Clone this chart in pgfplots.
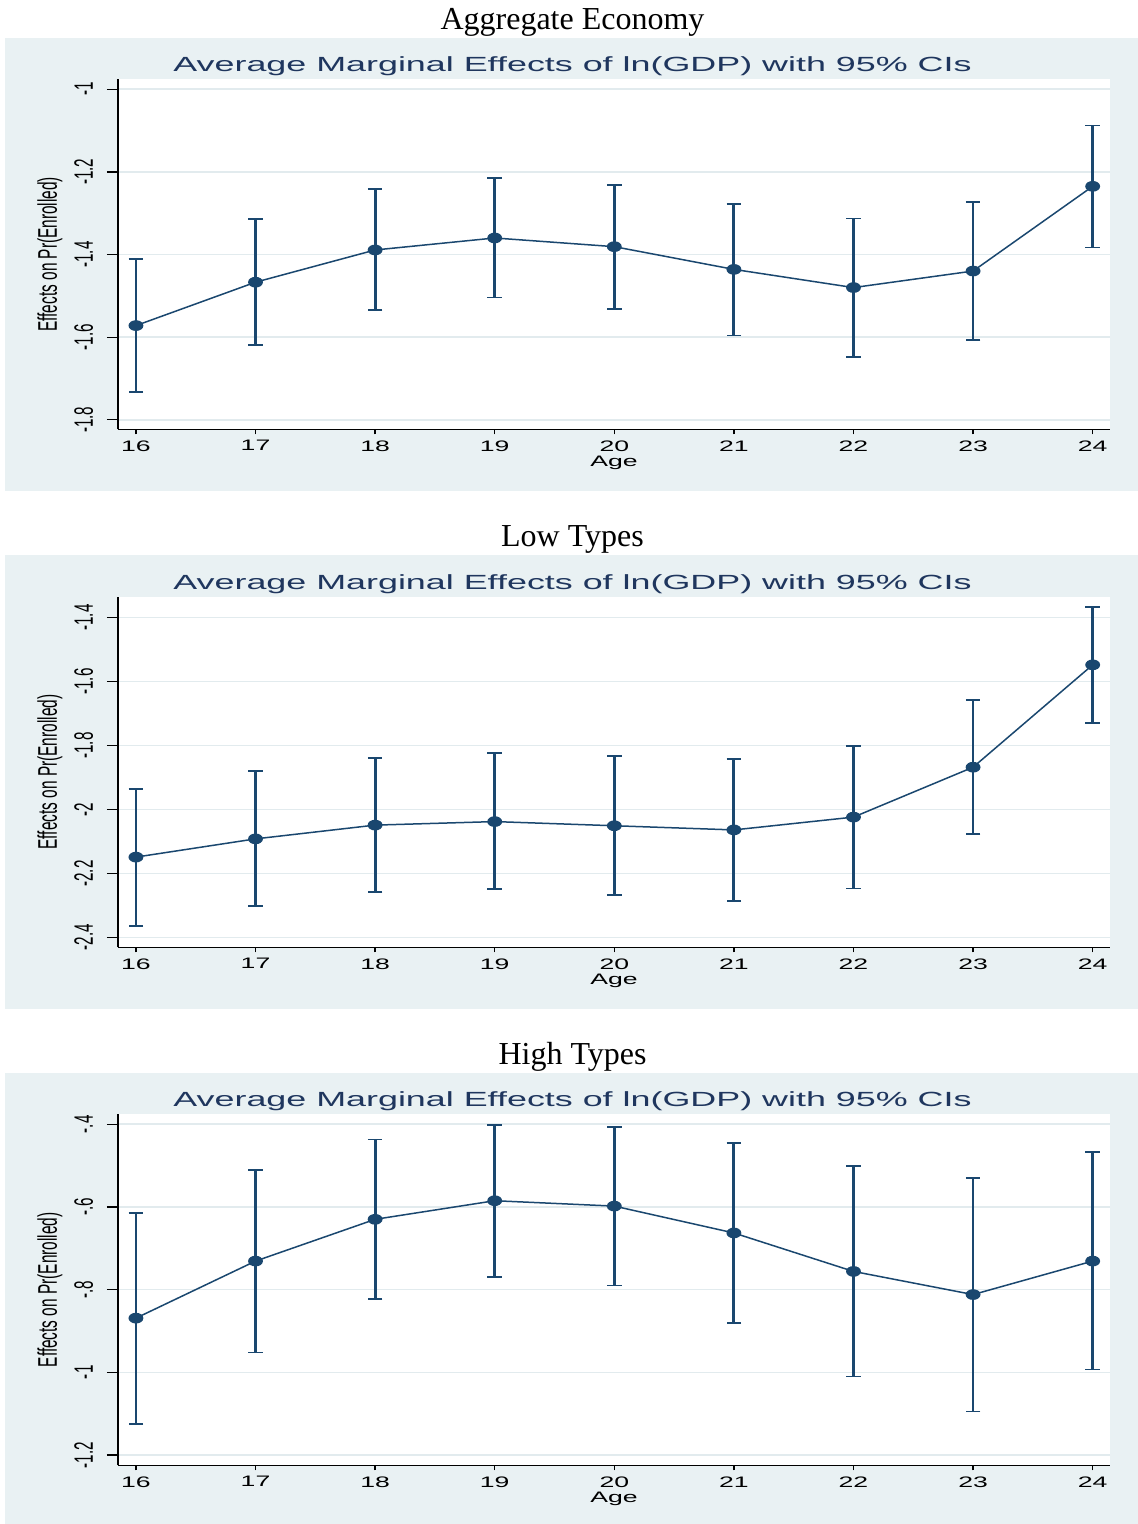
\documentclass[border=0pt]{standalone}
\usepackage{fontspec}
\usepackage{graphicx}
\usepackage{pgfplots}
\pgfplotsset{compat=1.18}
\usepackage{pgfplotstable}
\setmainfont{Liberation Serif}
\newfontfamily\sansf{Liberation Sans}
\definecolor{navy}{RGB}{26,71,111}
\definecolor{titlec}{RGB}{31,54,94}
\definecolor{bgc}{RGB}{233,241,243}
\definecolor{gridc}{RGB}{226,235,238}
\newcommand\sx[1]{\scalebox{1.75}[1]{#1}}
\newcommand\sy[1]{\scalebox{1}[1.75]{#1}}

\pgfplotstableread{
x y hi lo
16 -1.572 -1.411 -1.732
17 -1.467 -1.315 -1.619
18 -1.389 -1.242 -1.534
19 -1.360 -1.214 -1.504
20 -1.381 -1.231 -1.531
21 -1.436 -1.277 -1.596
22 -1.480 -1.313 -1.648
23 -1.440 -1.273 -1.606
24 -1.235 -1.088 -1.383
}\aggtab

\pgfplotstableread{
x y hi lo
16 -2.149 -1.936 -2.364
17 -2.092 -1.880 -2.302
18 -2.049 -1.839 -2.257
19 -2.038 -1.824 -2.248
20 -2.051 -1.834 -2.268
21 -2.064 -1.842 -2.285
22 -2.024 -1.802 -2.247
23 -1.868 -1.658 -2.078
24 -1.548 -1.368 -1.729
}\lowtab

\pgfplotstableread{
x y hi lo
16 -0.869 -0.614 -1.126
17 -0.731 -0.510 -0.952
18 -0.630 -0.437 -0.823
19 -0.585 -0.402 -0.769
20 -0.598 -0.407 -0.790
21 -0.663 -0.445 -0.881
22 -0.756 -0.501 -1.010
23 -0.812 -0.530 -1.095
24 -0.731 -0.468 -0.993
}\hightab

\pgfplotsset{
  statastyle/.style={
    scale only axis, width=992pt,
    xmin=15.85, xmax=24.145,
    axis x line*=bottom, axis y line*=left,
    axis line style={black, line width=1.3pt, -},
    tick align=outside,
    major tick length=11pt,
    xtick style={/pgfplots/major tick length=5pt, black, line width=1.3pt},
    ytick style={black, line width=1.3pt},
    xtick={16,...,24},
    xticklabels={\sx{16},\sx{17},\sx{18},\sx{19},\sx{20},\sx{21},\sx{22},\sx{23},\sx{24}},
    ymajorgrids, grid style={gridc, line width=1.5pt},
    axis background/.style={fill=white},
    tick label style={font=\sansf\fontsize{15.2}{18}\selectfont, black},
    xticklabel style={anchor=north, inner sep=0pt},
    yticklabel style={rotate=90, anchor=base, inner sep=0pt},
    yticklabel shift=14pt,
    xlabel={\sx{Age}},
    xlabel style={at={(axis description cs:0.5,-0.106)}, anchor=base, inner sep=0pt, font=\sansf\fontsize{15.2}{18}\selectfont},
    ylabel={\sy{Effects on Pr(Enrolled)}},
    ylabel style={at={(axis description cs:-0.0615,0.5)}, anchor=base, inner sep=0pt, font=\sansf\fontsize{15.4}{18}\selectfont},
    clip=false,
  },
  cistyle/.style={navy, line width=1.5pt, mark=*, mark size=4.6pt,
    mark options={xscale=1.45, fill=navy, draw=navy, solid},
    error bars/.cd, y dir=both, y explicit,
    error mark=|,
    error bar style={line width=2.8pt, navy},
    error mark options={navy, line width=1.8pt, mark size=7.25pt}},
}

\begin{document}
\begin{tikzpicture}[x=1pt,y=1pt]
\useasboundingbox (0,0) rectangle (1138,-1524);
% backgrounds
\fill[bgc] (5,-38) rectangle (1138,-491);
\fill[bgc] (5,-555) rectangle (1138,-1009);
\fill[bgc] (5,-1073) rectangle (1138,-1524);
% outer titles
\node[anchor=base, font=\fontsize{32}{38}\selectfont] at (572.5,-29.5) {Aggregate Economy};
\node[anchor=base, font=\fontsize{32}{38}\selectfont] at (572.5,-546) {Low Types};
\node[anchor=base, font=\fontsize{32}{38}\selectfont] at (572.5,-1064) {High Types};
% inner titles
\node[anchor=base, text=titlec, font=\sansf\fontsize{20.5}{24}\selectfont] at (572.5,-71.5) {\sx{Average Marginal Effects of ln(GDP) with 95\% CIs}};
\node[anchor=base, text=titlec, font=\sansf\fontsize{20.5}{24}\selectfont] at (572.5,-589) {\sx{Average Marginal Effects of ln(GDP) with 95\% CIs}};
\node[anchor=base, text=titlec, font=\sansf\fontsize{20.5}{24}\selectfont] at (572.5,-1106.5) {\sx{Average Marginal Effects of ln(GDP) with 95\% CIs}};

\begin{axis}[statastyle, at={(118pt,-429.3pt)}, anchor=south west, height=350pt,
  ymin=-1.823, ymax=-0.976,
  ytick={-1.8,-1.6,-1.4,-1.2,-1},
  yticklabels={\sy{-1.8},\sy{-1.6},\sy{-1.4},\sy{-1.2},\sy{-1}}]
\addplot[cistyle] table[x=x, y=y, y error plus expr=\thisrow{hi}-\thisrow{y}, y error minus expr=\thisrow{y}-\thisrow{lo}] {\aggtab};
\end{axis}

\begin{axis}[statastyle, at={(118pt,-947.3pt)}, anchor=south west, height=350.6pt,
  ymin=-2.431, ymax=-1.335,
  ytick={-2.4,-2.2,-2,-1.8,-1.6,-1.4},
  yticklabels={\sy{-2.4},\sy{-2.2},\sy{-2},\sy{-1.8},\sy{-1.6},\sy{-1.4}}]
\addplot[cistyle] table[x=x, y=y, y error plus expr=\thisrow{hi}-\thisrow{y}, y error minus expr=\thisrow{y}-\thisrow{lo}] {\lowtab};
\end{axis}

\begin{axis}[statastyle, at={(118pt,-1465.3pt)}, anchor=south west, height=351pt,
  ymin=-1.225, ymax=-0.376,
  ytick={-1.2,-1,-0.8,-0.6,-0.4},
  yticklabels={\sy{-1.2},\sy{-1},\sy{-.8},\sy{-.6},\sy{-.4}}]
\addplot[cistyle] table[x=x, y=y, y error plus expr=\thisrow{hi}-\thisrow{y}, y error minus expr=\thisrow{y}-\thisrow{lo}] {\hightab};
\end{axis}
\end{tikzpicture}
\end{document}
